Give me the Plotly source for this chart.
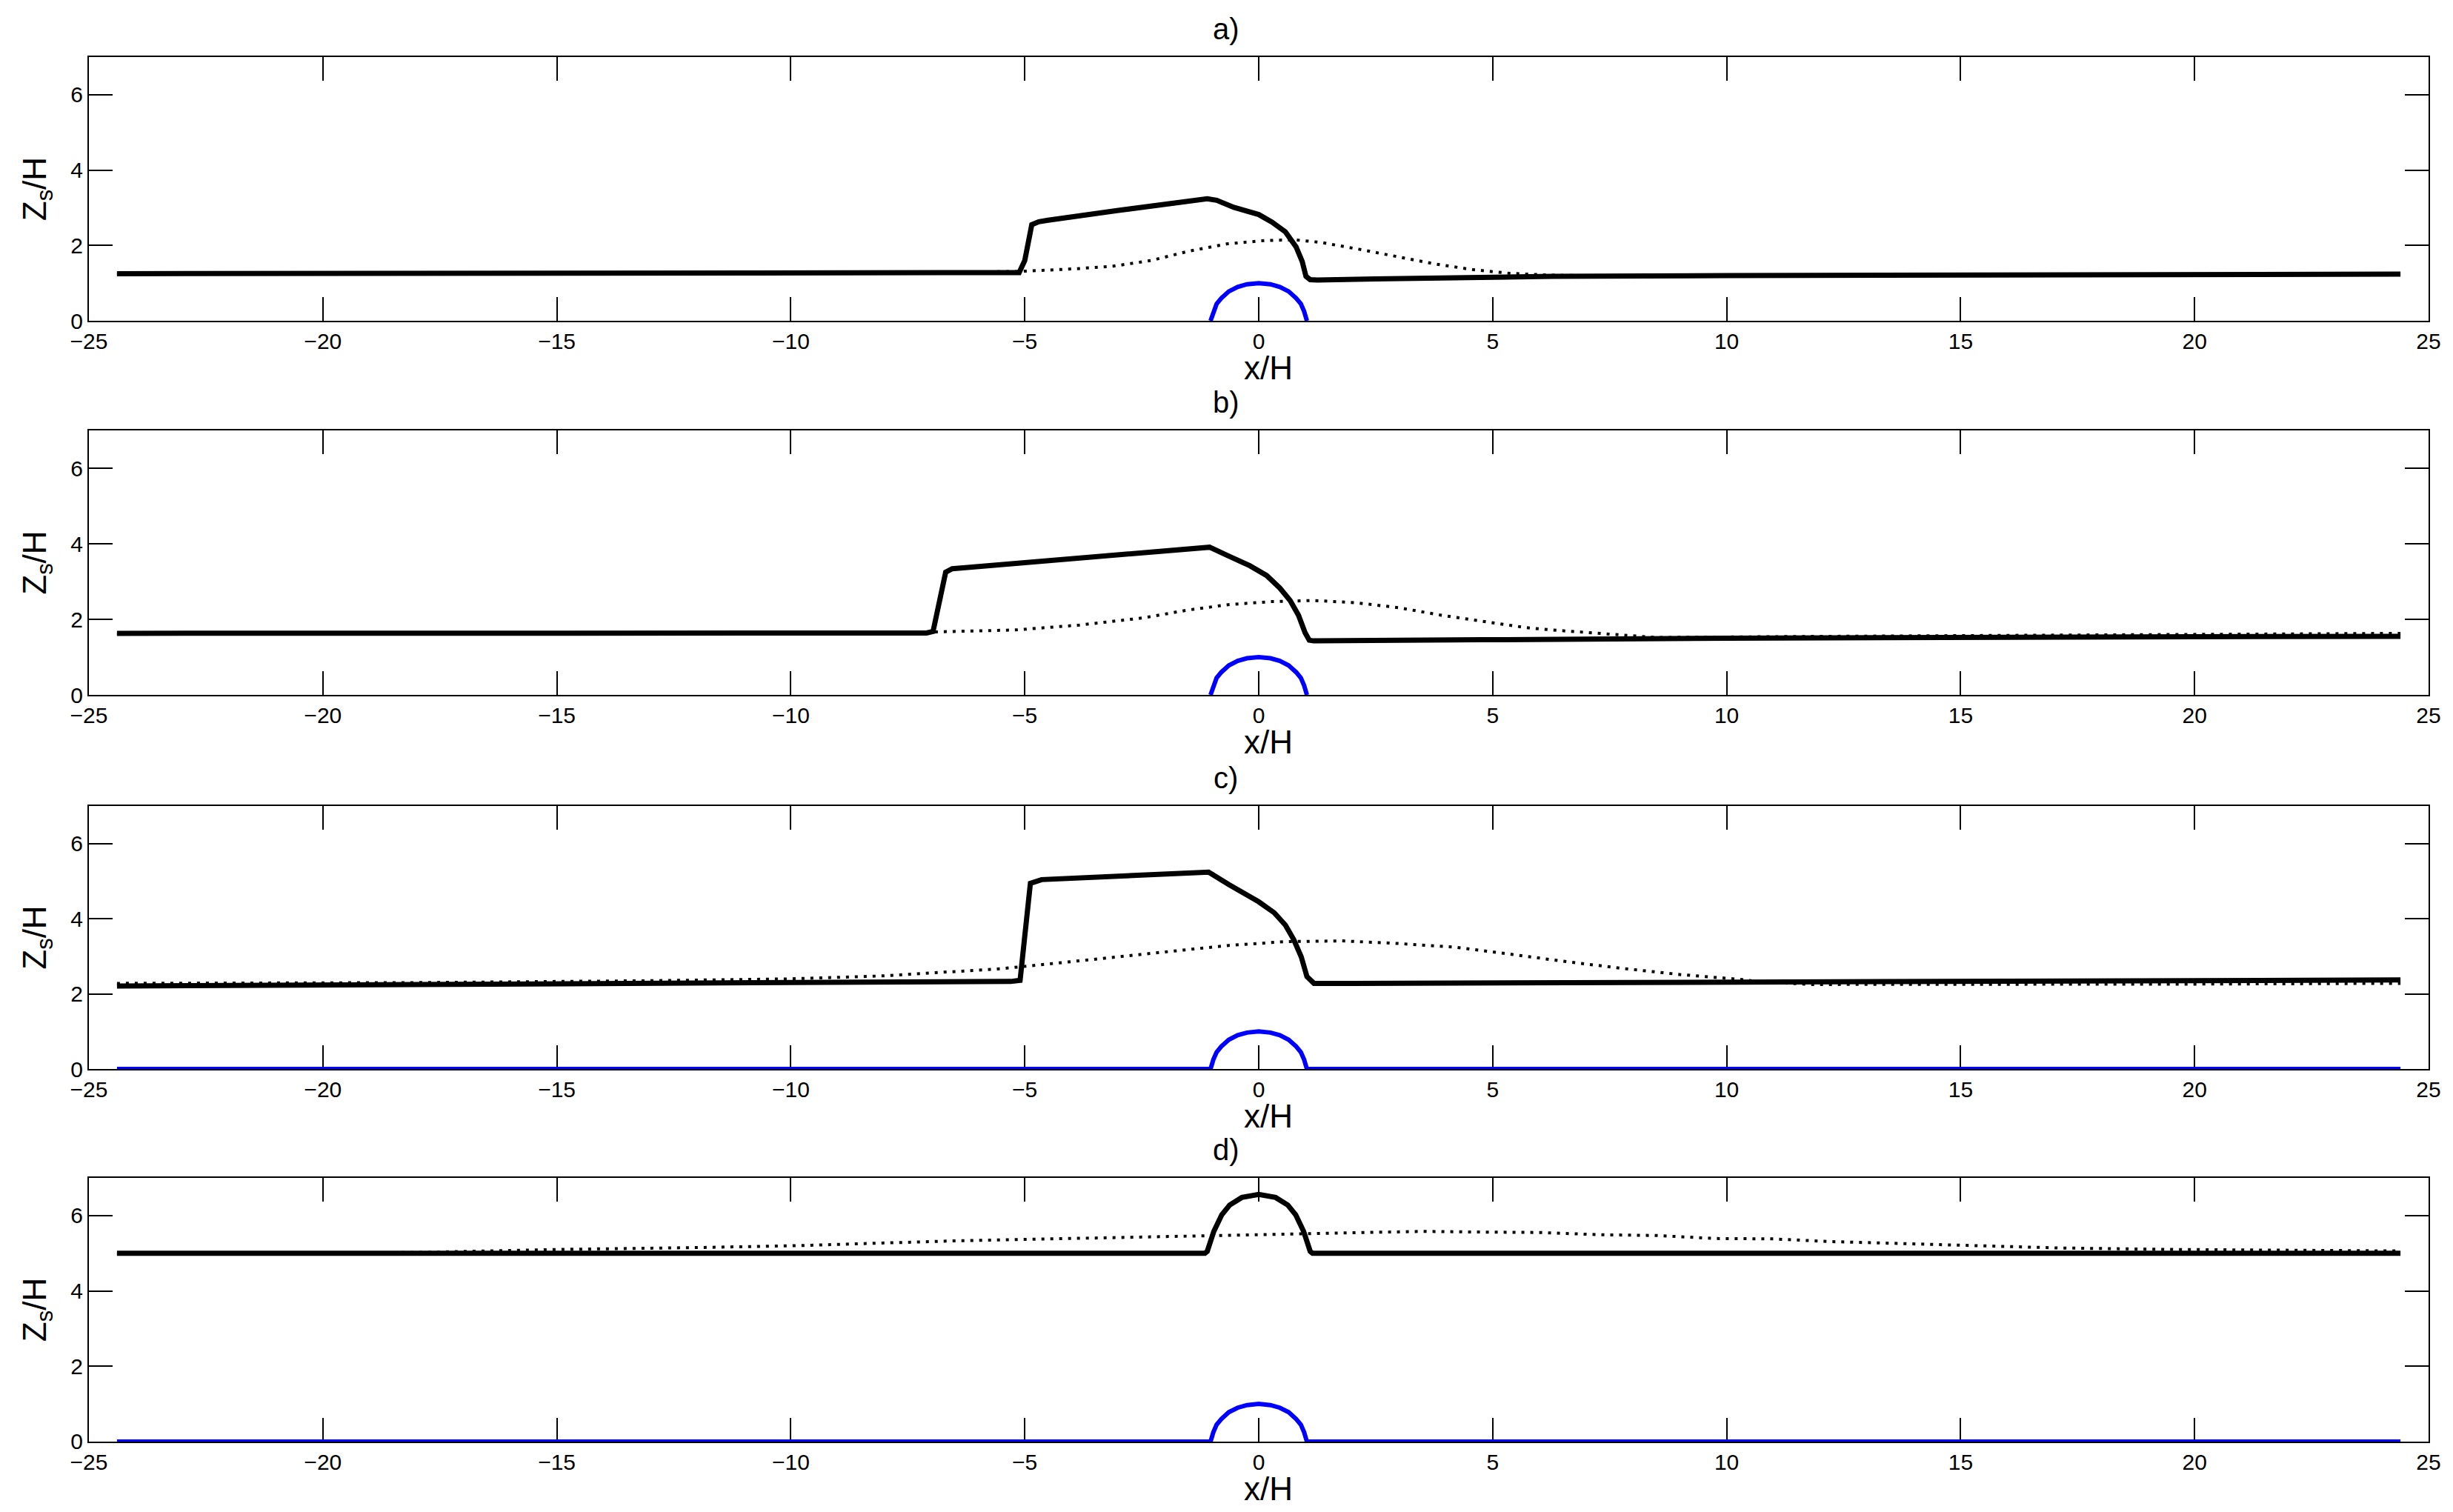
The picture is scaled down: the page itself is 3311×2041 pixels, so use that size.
import plotly.graph_objects as go
from plotly.subplots import make_subplots

# ---- data (x/H, Zs/H) ----
# panel a)
a_solid_x = [-24.4, -15, -10, -5.3, -5.12, -5.0, -4.85, -4.7, -4.5, -3.0, -1.25, -1.1, -0.9, -0.53,
             0.0, 0.28, 0.57, 0.8, 0.93, 1.01, 1.1, 1.25, 2.5, 5.0, 6.3, 10, 15, 20, 24.4]
a_solid_y = [1.25, 1.25, 1.25, 1.25, 1.28, 1.6, 2.55, 2.63, 2.67, 2.93, 3.22, 3.24, 3.2, 3.01,
             2.82, 2.62, 2.36, 1.96, 1.57, 1.18, 1.09, 1.08, 1.11, 1.15, 1.18, 1.2, 1.22, 1.23, 1.24]
a_dot_x = [-24.4, -15, -10, -7, -5.13, -3.92, -3.11, -2.3, -1.49, -0.69, 0.12, 0.77, 1.33, 2.14,
           2.95, 3.76, 4.56, 5.37, 6.26, 7.5, 10, 15, 20, 24.4]
a_dot_y = [1.25, 1.25, 1.26, 1.28, 1.31, 1.38, 1.45, 1.6, 1.85, 2.04, 2.13, 2.15, 2.08, 1.9,
           1.7, 1.51, 1.36, 1.26, 1.21, 1.19, 1.2, 1.22, 1.23, 1.24]

# panel b)
b_solid_x = [-24.4, -15, -10, -7.1, -6.96, -6.85, -6.69, -6.55, -4.0, -1.19, -1.05, -0.65, -0.19,
             0.17, 0.45, 0.67, 0.85, 0.99, 1.08, 1.17, 2.0, 4.77, 10, 15, 20, 24.4]
b_solid_y = [1.63, 1.63, 1.63, 1.64, 1.68, 2.3, 3.25, 3.34, 3.6, 3.91, 3.91, 3.68, 3.42,
             3.16, 2.83, 2.5, 2.11, 1.65, 1.45, 1.43, 1.44, 1.46, 1.5, 1.53, 1.54, 1.55]
b_dot_x = [-24.4, -15, -10, -6.87, -5.19, -3.83, -2.46, -1.55, -0.65, 0.26, 1.17, 2.08, 2.99,
           3.9, 4.81, 5.72, 6.26, 7.5, 8.5, 12, 16, 20, 24.4]
b_dot_y = [1.62, 1.63, 1.64, 1.67, 1.72, 1.85, 2.04, 2.24, 2.39, 2.47, 2.5, 2.44, 2.31,
           2.11, 1.95, 1.78, 1.72, 1.6, 1.52, 1.55, 1.58, 1.61, 1.63]

# panel c)
c_solid_x = [-24.4, -20, -15, -10, -6.3, -5.3, -5.1, -5.0, -4.88, -4.64, -3.0, -1.19, -1.07,
             -0.64, 0.0, 0.33, 0.57, 0.75, 0.91, 1.03, 1.18, 2.0, 6.35, 12, 19, 24.4]
c_solid_y = [2.21, 2.23, 2.26, 2.29, 2.32, 2.33, 2.36, 3.6, 4.94, 5.04, 5.13, 5.24, 5.24,
             4.91, 4.45, 4.16, 3.83, 3.44, 2.98, 2.46, 2.28, 2.28, 2.3, 2.32, 2.35, 2.37]
c_dot_x = [-24.4, -18, -13, -10, -8, -6.7, -5.5, -4.3, -3.06, -1.85, -0.64, 0.57, 1.78, 2.99,
           4.2, 5.41, 6.62, 7.83, 9.04, 10.25, 10.75, 11.8, 16, 20, 24.4]
c_dot_y = [2.28, 2.3, 2.35, 2.4, 2.48, 2.57, 2.67, 2.82, 2.98, 3.14, 3.29, 3.39, 3.41, 3.34,
           3.24, 3.05, 2.85, 2.67, 2.51, 2.39, 2.32, 2.25, 2.25, 2.26, 2.28]

# panel d)
d_solid_x = [-24.4, -10, -1.15, -1.1, -0.96, -0.79, -0.62, -0.36, 0.0, 0.36, 0.62, 0.79, 0.96,
             1.1, 1.15, 10, 24.4]
d_solid_y = [5.0, 5.0, 5.0, 5.05, 5.58, 6.02, 6.28, 6.48, 6.56, 6.48, 6.28, 6.02, 5.58,
             5.05, 5.0, 5.0, 5.0]
d_dot_x = [-24.4, -20, -18, -15, -12, -9.9, -6.45, -3.0, -1.0, 0.0, 1.0, 2.44, 3.5, 4.88, 6.0,
           7.3, 8.5, 9.77, 11.0, 12.2, 14.65, 17.1, 19.5, 22, 24.4]
d_dot_y = [5.0, 5.0, 5.02, 5.1, 5.15, 5.2, 5.33, 5.42, 5.46, 5.5, 5.53, 5.55, 5.58, 5.56, 5.55,
           5.49, 5.47, 5.39, 5.38, 5.31, 5.23, 5.14, 5.1, 5.07, 5.06]

# obstacle (blue), shared by all panels
hill_x = [-1.03, -0.97, -0.9, -0.8, -0.64, -0.45, -0.25, 0.0, 0.25, 0.45, 0.64, 0.8, 0.9, 0.97, 1.03]
hill_y = [0.0, 0.25, 0.45, 0.6, 0.78, 0.9, 0.97, 1.0, 0.97, 0.9, 0.78, 0.6, 0.45, 0.25, 0.0]
floor_ends = [-24.4, 24.4]

panels = [
    ('a)', a_solid_x, a_solid_y, a_dot_x, a_dot_y, False),
    ('b)', b_solid_x, b_solid_y, b_dot_x, b_dot_y, False),
    ('c)', c_solid_x, c_solid_y, c_dot_x, c_dot_y, True),
    ('d)', d_solid_x, d_solid_y, d_dot_x, d_dot_y, True),
]

x_ticks = [-25, -20, -15, -10, -5, 0, 5, 10, 15, 20, 25]
y_ticks = [0, 2, 4, 6]

FONT = 'Liberation Sans, Arial, sans-serif'
domains = [[0.8095, 1.0], [0.5393, 0.7303], [0.2691, 0.4591], [0.0, 0.1905]]

fig = make_subplots(rows=4, cols=1)

for i, (label, sx, sy, dx, dy, with_floor) in enumerate(panels, start=1):
    fig.add_trace(go.Scatter(x=dx, y=dy, mode='lines',
                             line=dict(color='black', width=4, dash='4px,8px')),
                  row=i, col=1)
    fig.add_trace(go.Scatter(x=sx, y=sy, mode='lines',
                             line=dict(color='black', width=7)),
                  row=i, col=1)
    if with_floor:
        bx = [floor_ends[0]] + hill_x + [floor_ends[1]]
        by = [0.0] + hill_y + [0.0]
    else:
        bx, by = hill_x, hill_y
    fig.add_trace(go.Scatter(x=bx, y=by, mode='lines',
                             line=dict(color='#0000ff', width=6)),
                  row=i, col=1)

    fig.update_xaxes(range=[-25, 25], tickvals=x_ticks, ticks='inside', ticklen=32,
                     tickwidth=1.5, tickcolor='black', showline=True, linewidth=2,
                     linecolor='black', mirror='ticks', showgrid=False, zeroline=False,
                     layer='below traces', tickfont=dict(size=30, color='black'),
                     row=i, col=1)
    fig.update_yaxes(domain=domains[i - 1], range=[0, 7], tickvals=y_ticks, ticks='inside',
                     ticklen=32, tickwidth=1.5, tickcolor='black', showline=True, linewidth=2,
                     linecolor='black', mirror='ticks', showgrid=False, zeroline=False,
                     layer='below traces', tickfont=dict(size=30, color='black'),
                     title=dict(text='Z<sub>s</sub>/H', font=dict(size=44, color='black'),
                                standoff=19),
                     row=i, col=1)
    # panel letter above, x/H just under the tick labels
    fig.add_annotation(text=label, xref='x domain', yref='y domain', x=0.486, y=1.0,
                       xanchor='center', yanchor='bottom', yshift=14, showarrow=False,
                       font=dict(size=40, color='black'), row=i, col=1)
    fig.add_annotation(text='x/H', xref='x domain', yref='y domain', x=0.504, y=0.0,
                       xanchor='center', yanchor='top', yshift=-38, borderpad=0,
                       showarrow=False, font=dict(size=44, color='black'), row=i, col=1)

# the page body adds an 8px offset, so the figure is made 8px smaller
fig.update_layout(width=3303, height=2033, showlegend=False,
                  paper_bgcolor='white', plot_bgcolor='white',
                  font=dict(family=FONT, color='black'),
                  margin=dict(l=112, r=33, t=69, b=95))

fig.write_html("out.html")
